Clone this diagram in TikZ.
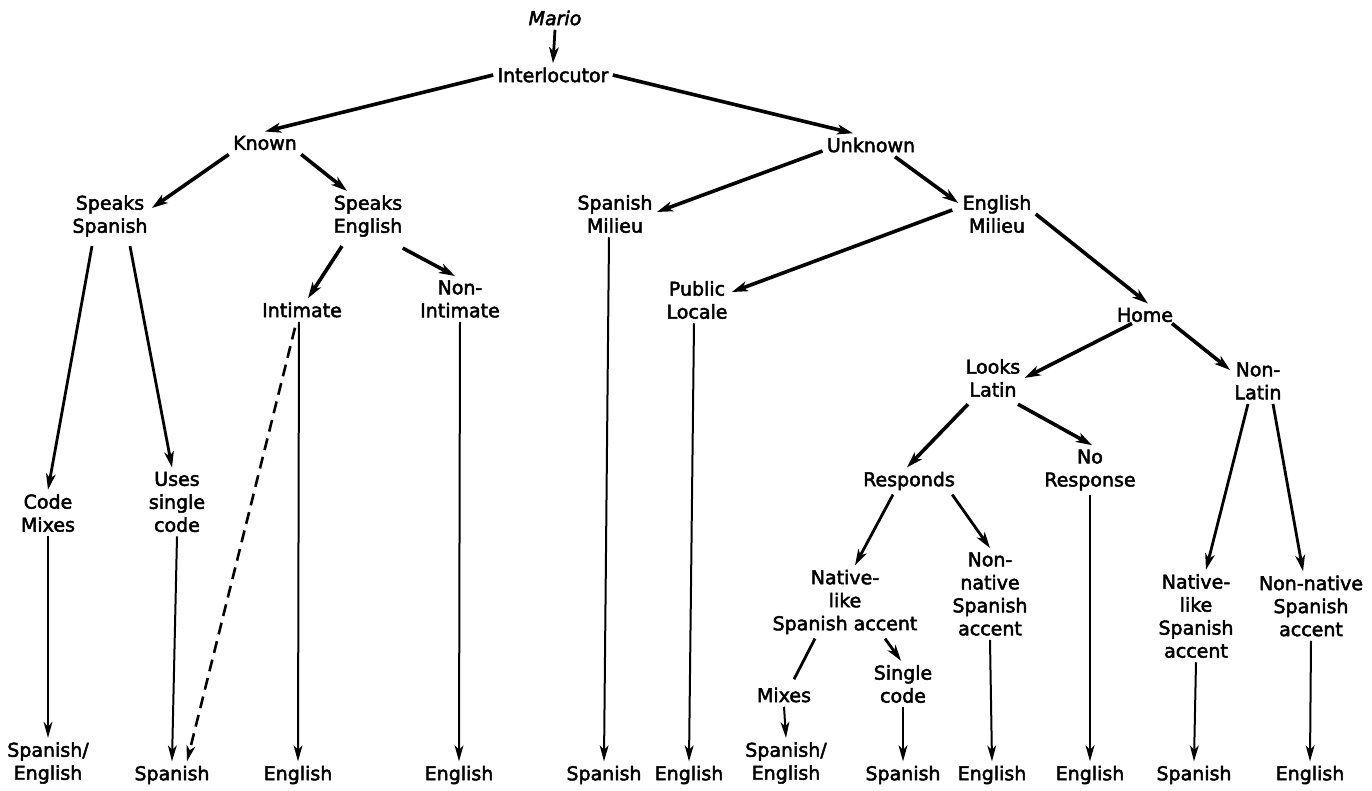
\documentclass[tikz,border=0pt]{standalone}
\usepackage{fontspec}
\setmainfont{DejaVu Sans}[FakeBold=2.5]
\usetikzlibrary{arrows.meta}
\tikzset{
  lab/.style={inner sep=2pt, align=center, font=\fontsize{9.5}{11.5}\selectfont},
  arrT/.style={line width=1.8pt, -{Stealth[length=8pt,width=5pt,inset=2.2pt]}},
  arrM/.style={line width=1.4pt, -{Stealth[length=8pt,width=4.8pt,inset=2.2pt]}},
  arrV/.style={line width=1.0pt, -{Stealth[length=8pt,width=4.4pt,inset=2.2pt]}},
  plainM/.style={line width=1.4pt},
  dashM/.style={line width=1.3pt, dash pattern=on 6pt off 3.5pt, -{Stealth[length=8pt,width=4.4pt,inset=2.2pt]}}
}
\begin{document}
\begin{tikzpicture}[x=0.5pt,y=-0.5pt]
\useasboundingbox (0,0) rectangle (1372,791);
% nodes
\node[lab,font=\fontsize{9.5}{11.5}\selectfont\itshape] (mario) at (555,18) {Mario};
\node[lab] (inter) at (553,75) {Interlocutor};
\node[lab] (known) at (265,143) {Known};
\node[lab] (unknown) at (871,145) {Unknown};
\node[lab] (speaksSp) at (110,216) {Speaks\\Spanish};
\node[lab] (speaksEn) at (368,216) {Speaks\\English};
\node[lab] (spMil) at (615,214) {Spanish\\Milieu};
\node[lab] (enMil) at (997,214) {English\\Milieu};
\node[lab] (intimate) at (302,310) {Intimate};
\node[lab] (nonInt) at (460,299) {Non-\\Intimate};
\node[lab] (pubLoc) at (697,300) {Public\\Locale};
\node[lab] (home) at (1145,315) {Home};
\node[lab] (looksLatin) at (993,378) {Looks\\Latin};
\node[lab] (nonLatin) at (1258,381) {Non-\\Latin};
\node[lab] (codeMixes) at (48,513) {Code\\Mixes};
\node[lab] (usesSingle) at (177,502) {Uses\\single\\code};
\node[lab] (responds) at (909,481) {Responds};
\node[lab] (noResp) at (1090,470) {No\\Response};
\node[lab] (nativeL) at (845,602) {Native-\\like\\Spanish accent};
\node[lab] (nonNativeM) at (990,594) {Non-\\native\\Spanish\\accent};
\node[lab] (mixes) at (784,695) {Mixes};
\node[lab] (singleCode) at (903,684) {Single\\code};
\node[lab] (nativeR) at (1196,616) {Native-\\like\\Spanish\\accent};
\node[lab] (nonNativeR) at (1311,606) {Non-native\\Spanish\\accent};
% bottom row
\node[lab] (b1) at (48,763) {Spanish/\\English};
\node[lab] (b2) at (172,775) {Spanish};
\node[lab] (b3) at (298,775) {English};
\node[lab] (b4) at (459,775) {English};
\node[lab] (b5) at (604,775) {Spanish};
\node[lab] (b6) at (689,775) {English};
\node[lab] (b7) at (786,763) {Spanish/\\English};
\node[lab] (b8) at (903,775) {Spanish};
\node[lab] (b9) at (992,775) {English};
\node[lab] (b10) at (1090,775) {English};
\node[lab] (b11) at (1194,775) {Spanish};
\node[lab] (b12) at (1310,775) {English};
% connectors
\draw[arrM] (mario.south) -- (inter.north);
\draw[arrT] (inter.west) -- (known.north);
\draw[arrT] (inter.east) -- ([shift={(-18,0)}]unknown.north);
\draw[arrT] (known.south west) -- ([shift={(0,-8)}]speaksSp.east);
\draw[arrT] (known.south east) -- ([shift={(-21,0)}]speaksEn.north);
\draw[arrT] ([shift={(0,6)}]unknown.west) -- ([shift={(0,-2)}]spMil.east);
\draw[arrT] ([shift={(24,0)}]unknown.south) -- ([shift={(0,-11)}]enMil.west);
\draw[arrM] ([shift={(-18,5)}]speaksSp.south) -- (codeMixes.north);
\draw[arrM] ([shift={(20,5)}]speaksSp.south) -- ([shift={(-5,0)}]usesSingle.north);
\draw[arrT] ([shift={(-26,5)}]speaksEn.south) -- ([shift={(6,0)}]intimate.north);
\draw[arrT] ([shift={(-4,7)}]speaksEn.south east) -- ([shift={(-5,0)}]nonInt.north);
\draw[dashM] ([shift={(-7,6)}]intimate.south) -- ([shift={(15,0)}]b2.north);
\draw[arrV] ([shift={(-3,0)}]intimate.south) -- (b3.north);
\draw[arrV] (nonInt.south) -- (b4.north);
\draw[arrV] ([shift={(-6,0)}]spMil.south) -- (b5.north);
\draw[arrT] ([shift={(-6,-4)}]enMil.west) -- ([shift={(0,-8)}]pubLoc.east);
\draw[arrT] (enMil.east) -- ([shift={(3,0)}]home.north);
\draw[arrV] ([shift={(-3,0)}]pubLoc.south) -- (b6.north);
\draw[arrT] ([shift={(-13,-3)}]home.south) -- (looksLatin.east);
\draw[arrT] ([shift={(27,-3)}]home.south) -- ([shift={(0,-11)}]nonLatin.west);
\draw[arrT] ([shift={(-25,3)}]looksLatin.south) -- ([shift={(-2,0)}]responds.north);
\draw[arrT] ([shift={(25,3)}]looksLatin.south) -- ([shift={(2,0)}]noResp.north);
\draw[arrM] ([shift={(-10,0)}]nonLatin.south) -- ([shift={(10,0)}]nativeR.north);
\draw[arrM] ([shift={(15,0)}]nonLatin.south) -- ([shift={(-8,0)}]nonNativeR.north);
\draw[arrM] ([shift={(-16,0)}]responds.south) -- ([shift={(10,0)}]nativeL.north);
\draw[arrM] ([shift={(-7,0)}]responds.south east) -- (nonNativeM.north);
\draw[plainM] ([shift={(-30,0)}]nativeL.south) -- ([shift={(10,-4)}]mixes.north);
\draw[arrM] ([shift={(40,0)}]nativeL.south) -- ([shift={(-2,0)}]singleCode.north);
\draw[arrV] (mixes.south) -- (b7.north);
\draw[arrV] (singleCode.south) -- (b8.north);
\draw[arrV] (nonNativeM.south) -- (b9.north);
\draw[arrV] (noResp.south) -- (b10.north);
\draw[arrV] (nativeR.south) -- (b11.north);
\draw[arrV] (nonNativeR.south) -- (b12.north);
\draw[arrV] (codeMixes.south) -- (b1.north);
\draw[arrV] (usesSingle.south) -- (b2.north);
\end{tikzpicture}
\end{document}
